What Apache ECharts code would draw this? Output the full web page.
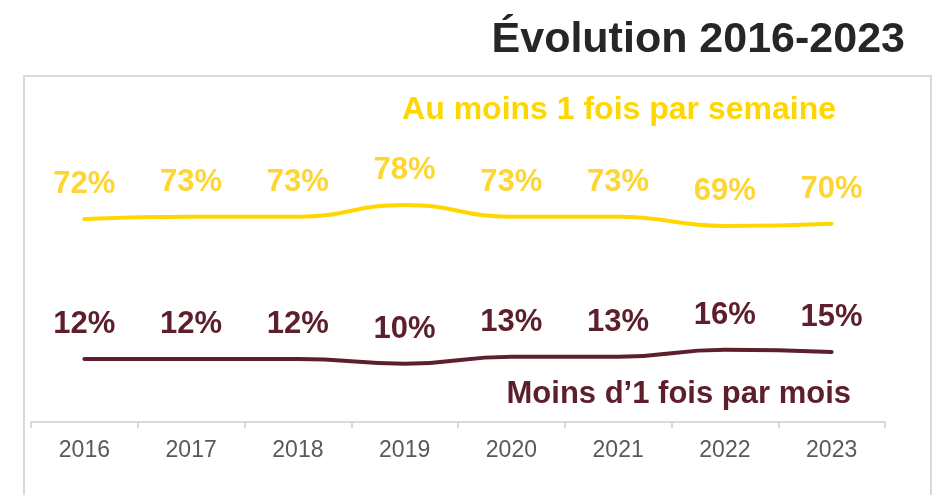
<!DOCTYPE html>
<html>
<head>
<meta charset="utf-8">
<style>
    html, body { margin: 0; padding: 0; background: #ffffff; }
    #chart { width: 939px; height: 495px; }
</style>
<script src="https://cdn.jsdelivr.net/npm/echarts@6/dist/echarts.min.js"></script>
</head>
<body>
<div id="chart"></div>
<script>
    // data
    var years = ['2016', '2017', '2018', '2019', '2020', '2021', '2022', '2023'];
    var weekly = [72, 73, 73, 78, 73, 73, 69, 70];
    var monthlyLess = [12, 12, 12, 10, 13, 13, 16, 15];
    var weeklyName = 'Au moins 1 fois par semaine';
    var monthlyName = 'Moins d\u20191 fois par mois';

    var font = "'Liberation Sans', Arial, sans-serif";
    var yellow = '#FFD700';
    var maroon = '#5C1F2B';

    var myChart = echarts.init(document.getElementById('chart'));
    var option = {
        backgroundColor: '#ffffff',
        animation: false,
        grid: {
            left: 31,
            right: 54,
            top: 72,
            bottom: 73
        },
        xAxis: {
            type: 'category',
            data: years,
            boundaryGap: true,
            axisLine: { onZero: false, lineStyle: { color: '#d9d9d9', width: 2 } },
            axisTick: { show: true, length: 6, lineStyle: { color: '#d9d9d9', width: 2 } },
            axisLabel: { color: '#595959', fontSize: 23, fontFamily: font, margin: 17 }
        },
        yAxis: {
            type: 'value',
            min: -15,
            max: 135,
            show: false,
            splitLine: { show: false }
        },
        graphic: [
            {
                type: 'rect',
                silent: true,
                shape: { x: 24, y: 76, width: 907, height: 460 },
                style: { fill: 'none', stroke: '#d9d9d9', lineWidth: 2 }
            },
            {
                type: 'text',
                style: {
                    text: '\u00c9volution 2016-2023',
                    x: 905, y: 40,
                    align: 'right', verticalAlign: 'middle',
                    fill: '#262626', font: 'bold 43px ' + font
                }
            },
            {
                type: 'text',
                style: {
                    text: weeklyName,
                    x: 836, y: 110,
                    align: 'right', verticalAlign: 'middle',
                    fill: yellow, font: 'bold 32px ' + font
                }
            },
            {
                type: 'text',
                style: {
                    text: monthlyName,
                    x: 851, y: 394,
                    align: 'right', verticalAlign: 'middle',
                    fill: maroon, font: 'bold 31px ' + font
                }
            }
        ],
        series: [
            {
                name: weeklyName,
                type: 'line',
                data: weekly,
                smooth: 0.5,
                symbol: 'circle',
                symbolSize: 2,
                showSymbol: true,
                itemStyle: { color: 'rgba(0,0,0,0)' },
                lineStyle: { color: yellow, width: 4, cap: 'round' },
                labelLayout: { hideOverlap: false },
                label: {
                    show: true,
                    position: 'top',
                    distance: 18,
                    formatter: '{c}%',
                    color: '#FDD535',
                    fontSize: 31,
                    fontWeight: 'bold',
                    fontFamily: font
                }
            },
            {
                name: monthlyName,
                type: 'line',
                data: monthlyLess,
                smooth: 0.5,
                symbol: 'circle',
                symbolSize: 2,
                showSymbol: true,
                itemStyle: { color: 'rgba(0,0,0,0)' },
                lineStyle: { color: maroon, width: 4, cap: 'round' },
                labelLayout: { hideOverlap: false },
                label: {
                    show: true,
                    position: 'top',
                    distance: 18,
                    formatter: '{c}%',
                    color: maroon,
                    fontSize: 31,
                    fontWeight: 'bold',
                    fontFamily: font
                }
            }
        ]
    };

    myChart.setOption(option);
</script>
</body>
</html>
